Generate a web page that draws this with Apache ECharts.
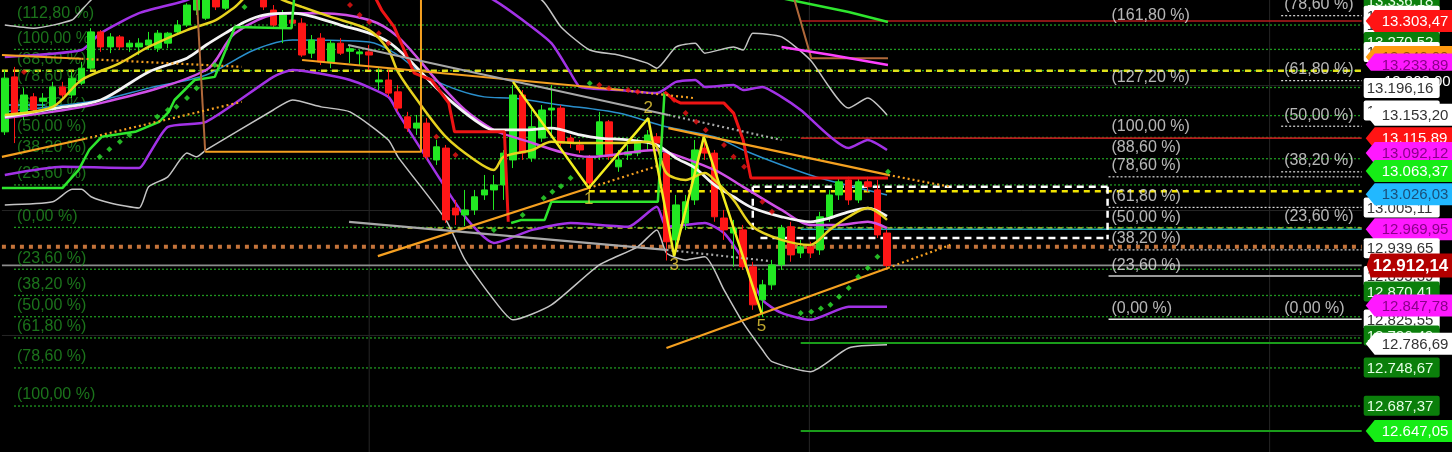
<!DOCTYPE html>
<html><head><meta charset="utf-8">
<script src="https://cdn.jsdelivr.net/npm/echarts@6/dist/echarts.min.js"></script>
<style>html,body{margin:0;padding:0;background:#000;}#c{width:1452px;height:452px;}</style>
</head><body><div id="c"></div>
<script>
// ---------- DATA ----------
const slots = Array.from({length: 151}, (_, i) => 'b' + i);
// [open, close, low, high]
const candles = [
[13126,13212,13121,13225],[13214,13153,13108,13230],[13153,13185,13145,13196],[13182,13161,13153,13188],
[13175,13180,13164,13188],[13161,13198,13156,13206],[13198,13185,13177,13206],[13185,13212,13180,13222],
[13204,13228,13201,13238],[13228,13286,13225,13292],[13286,13262,13254,13289],[13262,13278,13252,13284],
[13278,13262,13257,13281],[13262,13268,13254,13273],[13262,13268,13249,13276],[13265,13273,13257,13286],
[13260,13284,13254,13289],[13268,13284,13260,13286],[13286,13297,13284,13305],[13297,13329,13294,13332],
[13321,13345,13313,13353],[13308,13340,13305,13345],[13342,13326,13321,13347],[13324,13345,13321,13350],
[13385,13361,13355,13390],[13369,13393,13365,13398],[13377,13345,13340,13380],[13342,13326,13321,13347],
[13321,13297,13292,13329],[13294,13313,13268,13321],[13305,13300,13292,13313],[13300,13249,13246,13308],
[13252,13273,13244,13281],[13276,13238,13233,13284],[13238,13268,13228,13273],[13268,13252,13249,13276],
[13255,13259,13236,13265],[13251,13254,13233,13257],[13254,13249,13225,13265],[13206,13209,13193,13228],
[13209,13188,13182,13225],[13190,13164,13158,13201],[13150,13132,13126,13158],[13132,13140,13121,13153],
[13140,13086,13081,13148],[13081,13102,13073,13113],[13100,12985,12980,13105],[13004,12993,12977,13017],
[12993,13001,12975,13033],[13001,13022,12993,13033],[13025,13033,13017,13057],[13033,13041,13001,13057],
[13041,13092,13017,13097],[13081,13185,13068,13201],[13185,13092,13081,13193],[13084,13134,13078,13161],
[13116,13161,13110,13169],[13161,13164,13116,13201],[13164,13108,13103,13169],[13116,13108,13100,13121],
[13105,13097,13092,13113],[13084,13044,13033,13089],[13089,13142,13081,13158],[13142,13086,13081,13145],
[13070,13081,13062,13097],[13089,13094,13081,13105],[13092,13110,13087,13116],[13110,13121,13097,13129],
[13118,13108,13097,13124],[13092,12950,12920,13097],[12953,13009,12937,13025],[12980,13014,12969,13025],
[13017,13097,13009,13113],[13100,13092,13081,13113],[13092,12990,12982,13097],[12988,12969,12953,13001],
[12964,12972,12910,12985],[12969,12910,12905,12977],[12910,12849,12841,12918],[12857,12881,12830,12889],
[12881,12913,12873,12921],[12913,12972,12905,12977],[12974,12929,12918,12982],[12932,12942,12924,12953],
[12942,12932,12924,12950],[12937,12990,12929,12998],[12990,13025,12982,13033],[13025,13046,13017,13052],
[13049,13017,13009,13054],[13017,13046,13012,13052],[13046,13038,13030,13054],[13033,12961,12956,13049],
[12964,12912.14,12905,12969]
];
const whiteMA = [[0,13150],[5,13163],[10,13177],[15,13222],[19,13244],[21,13265],[23,13284],[25,13302],[27,13313],[30,13316],[32,13311],[35,13297],[38,13284],[40,13270],[42,13244],[44,13212],[46,13182],[49,13145],[51,13129],[54,13129],[57,13132],[60,13121],[62,13116],[65,13113],[68,13105],[70,13084],[72,13068],[74,13041],[76,13022],[78,13004],[81,12990],[84,12982],[86,12988],[88,12998],[90,13004],[92,12991]];
const yellowMA = [[0,13153],[5,13166],[8,13209],[12,13236],[15,13262],[19,13289],[22,13305],[24,13326],[26,13350],[28,13345],[29,13337],[31,13326],[34,13310],[38,13289],[40,13257],[41,13222],[43,13177],[46,13118],[49,13081],[51,13065],[52,13086],[55,13097],[57,13110],[60,13108],[64,13108],[67,13110],[68,13102],[69,13060],[71,13049],[73,13060],[74,13049],[76,13017],[78,12974],[81,12953],[84,12945],[86,12969],[88,12990],[90,13004],[92,12985]];
const purpleUpper = [[0,13246],[8,13257],[10,13284],[14,13316],[19,13337],[22,13361],[30,13401],[45,13380],[51,13337],[54,13305],[57,13268],[59,13220],[60,13198],[64,13193],[68,13188],[69,13196],[70,13206],[72,13209],[73,13198],[76,13201],[77,13193],[79,13198],[81,13182],[83,13161],[88,13100],[90,13113],[92,13097]];
const magentaMid = [[0,13148],[10,13172],[21,13225],[24,13284],[29,13316],[33,13316],[38,13305],[41,13278],[45,13209],[48,13161],[51,13129],[53,13118],[61,13086],[68,13097],[69,13094],[74,13065],[77,13038],[81,13001],[84,12977],[87,12977],[90,12982],[92,12972]];
const purpleLower = [[0,13057],[6,13070],[14,13068],[15,13089],[17,13134],[21,13142],[28,13214],[30,13225],[36,13209],[40,13182],[41,13156],[43,13108],[48,12990],[51,12948],[55,12969],[59,12980],[65,12974],[68,13006],[69,12974],[73,12980],[75,12964],[77,12921],[79,12857],[81,12836],[84,12825],[88,12846],[92,12846]];
const grayUpper = [[0,13297],[3,13292],[7,13305],[8,13321],[9,13337],[12,13377],[30,13420],[50,13380],[56,13337],[58,13294],[61,13257],[64,13249],[67,13236],[68,13228],[70,13262],[72,13268],[73,13252],[76,13262],[77,13257],[78,13284],[81,13278],[84,13241],[88,13164],[90,13180],[92,13153]];
const grayLower = [[0,13009],[5,13014],[7,13034],[8,13034],[9,13022],[11,13012],[14,13004],[15,13038],[17,13054],[19,13092],[20,13086],[21,13097],[28,13161],[30,13177],[33,13166],[36,13158],[40,13113],[41,13086],[46,12985],[48,12921],[51,12857],[53,12825],[57,12849],[62,12913],[66,12942],[68,12969],[69,12932],[71,12921],[73,12926],[75,12873],[77,12820],[79,12777],[80,12758],[84,12742],[88,12780],[92,12785]];
const blueMA = [[0,13158],[10,13177],[15,13196],[21,13217],[26,13257],[30,13273],[38,13270],[41,13249],[44,13214],[50,13182],[53,13180],[58,13169],[64,13156],[69,13134],[74,13118],[77,13097],[81,13073],[85,13052],[92,13025]];
const cyanShort = [[-0.3,13169],[4.2,13169]];
const greenStop1 = [[-0.3,13036],[6,13036],[7.7,13065],[8.8,13097],[10.1,13118],[13.6,13126],[16.1,13142],[17.1,13158],[17.7,13177],[19.8,13209],[21.9,13214],[24,13294],[29.9,13292],[30.2,13345]];
const greenStop2 = [[52.8,12980],[53.9,12985],[56.3,12985],[57,13014],[68.1,13014],[68.8,13190]];
const redStop1 = [[38.5,13345],[39.3,13321],[40.6,13294],[42.7,13220],[44.5,13209],[46.3,13172],[46.9,13126],[52.1,13126],[52.5,12982]];
const redStop2 = [[68.8,13190],[69.8,13177],[70.5,13172],[75,13172],[76,13156],[77,13113],[77.8,13052],[92.1,13052]];
const greenDots = [[9.9,13086],[10.9,13098],[12,13110],[13,13121],[15.9,13150],[17,13161],[17.9,13166],[19,13180],[20,13196],[21.9,13233],[25,13326],[51,12969],[54,12993],[56.2,13020],[57.1,13030],[58,13039],[59,13052],[61,13204],[83,12836],[84.1,12838],[85.1,12843],[86.1,12849],[87,12862],[88,12876],[89,12894],[90,12908],[91,12926],[92.1,13062]];
const redDots = [[2,13222],[36,13329],[37,13313],[38,13302],[39,13284],[40,13268],[45,13118],[47,13089],[62,13201],[63,13196],[65,13193],[66,13190],[69.8,13177],[71,13156],[72.1,13142],[73.1,13129],[75,13105],[76,13086],[77.1,13070],[79,13014],[80,12998]];
const zigzag = [[53,13206],[60.9,13036],[67.1,13148],[69.8,12927],[72.9,13118],[78.9,12836]];
const waveNames = ['', '1', '2', '3', '', '5'];
// trend lines: [start, end of solid part, end of dotted part]
const orangeTrends = [
  [[-0.3,13249],[8,13243],[24.7,13230]],
  [[31,13241],[64.3,13193],[71.9,13180]],
  [[69.2,13132],[92.1,13057],[98.6,13038]],
  [[38.9,12927],[60.9,13036],[68.4,13073]],
  [[69,12780],[92.1,12908],[98.6,12945]],
  [[-0.3,13086],[8.4,13115],[24.7,13174]]
];
const grayTrends = [
  [[35.8,13265],[69.2,13153],[81,13113]],
  [[35.9,12982],[69,12937],[79.9,12919]]
];
const brownStep = [[20,13345],[20.9,13094]];
const orangeStep = [[20.9,13094],[43.4,13094],[43.4,13345]];
const greenTop = [[81,13340],[88,13318],[92.1,13302]];
const brownTop = [[82.2,13345],[84.1,13244],[92.1,13244]];
const magentaTop = [[81,13262],[86.2,13249],[92.1,13233]];

const leftFibPrices = [13297,13258,13224,13197,13152,13117,13083,13041,12973,12906,12864,12830,12796,12748,12687];
const leftFibLabels = ['(112,80 %)','(100,00 %)','(88,60 %)','(78,60 %)','(61,80 %)','(50,00 %)','(38,20 %)','(23,60 %)','(0,00 %)','(23,60 %)','(38,20 %)','(50,00 %)','(61,80 %)','(78,60 %)','(100,00 %)'];
const fibAPrices = [13295,13195,13116,13083,13054,13005,12971,12937,12895,12826];
const fibALabels = ['(161,80 %)','(127,20 %)','(100,00 %)','(88,60 %)','(78,60 %)','(61,80 %)','(50,00 %)','(38,20 %)','(23,60 %)','(0,00 %)'];
const fibBPrices = [13312,13208,13135,13062,12972,12826];
const fibBLabels = ['(78,60 %)','(61,80 %)','(50,00 %)','(38,20 %)','(23,60 %)','(0,00 %)'];
const levelYellowTop = 13224, levelYellowMid = 13031, levelOlive = 12972, levelBrown = 12942, levelLast = 12912.14;
const levelTeal = 12969.95, levelRed1 = 13303.47, levelRed2 = 13115.89, levelGreen1 = 12788, levelGreen2 = 12647.05;
const boxTop = 13038, boxBottom = 12956;
const gridPrices = [13200, 13000, 12800];

const tagPrices = [13336.18,13312.00,13296.50,13303.47,13270.00,13254.00,13246.00,13233.89,13208.00,13196.16,13160.00,13153.20,13115.89,13092.12,13063.37,13005.00,13026.03,12969.95,12939.65,12895.39,12870.41,12825.55,12847.78,12800.00,12786.69,12748.67,12687.37,12647.05,12912.14];
const tagTexts = ['13.336,18','13.311,70','13.295,45','13.303,47','13.270,52','13.256,20','13.246,00','13.233,89','13.208,00','13.196,16','13.160,05','13.153,20','13.115,89','13.092,12','13.063,37','13.005,11','13.026,03','12.969,95','12.939,65','12.895,39','12.870,41','12.825,55','12.847,78','12.796,49','12.786,69','12.748,67','12.687,37','12.647,05','12.912,14'];

// ---------- STYLES ----------
const ST = {
  gbox: {kind:'box', bg:'#0b7f0b', fg:'#e6ffe6'},
  wbox: {kind:'box', bg:'#ffffff', fg:'#333333'},
  kbox: {kind:'wide', bg:'#000000', fg:'#ffffff'},
  red: {kind:'arrow', bg:'#ff1414', fg:'#ffffff'},
  mag: {kind:'arrow', bg:'#ff19ff', fg:'#8a008a'},
  org: {kind:'arrow', bg:'#ff9a10', fg:'#8a4a00'},
  warr: {kind:'arrow', bg:'#ffffff', fg:'#333333'},
  garr: {kind:'arrow', bg:'#16ec16', fg:'#ffffff'},
  cyan: {kind:'arrow', bg:'#22b8ff', fg:'#1a4f7a'},
  last: {kind:'last', bg:'#b30000', fg:'#ffffff'}
};
const tagStyleKeys = ['gbox','wbox','wbox','red','gbox','wbox','org','mag','kbox','wbox','wbox','warr','red','mag','garr','wbox','cyan','mag','wbox','wbox','gbox','wbox','mag','gbox','warr','gbox','gbox','garr','last'];

const S = [];
function seg(points, color, width, type, z, smooth) {
  S.push({type:'line', xAxisIndex:1, yAxisIndex:0, data:points, symbol:'none', silent:true,
    z: z || 3, smooth: smooth || false, clip: true,
    lineStyle:{color:color, width:width, type: type || 'solid'}});
}
const R = 141.5, L0 = -0.3;
// grid
gridPrices.forEach(p => seg([[L0,p],[R,p]], '#262626', 1, 'solid', 1));
[38, 83.9, 131.9].forEach(x => seg([[x,12613],[x,13337.1]], '#262626', 1, 'solid', 1));
// left fib (green dotted)
leftFibPrices.forEach(p => seg([[0.96,p],[R,p]], '#1f961f', 1.3, [2,2], 1));
// special levels
seg([[L0,levelYellowTop],[R,levelYellowTop]], '#e2e21a', 2.5, [6,5], 2);
seg([[60.9,levelYellowMid],[R,levelYellowMid]], '#f2e400', 2.5, [6,5], 2);
seg([[42,levelOlive],[R,levelOlive]], '#bcbf2a', 1.6, [5,5], 2);
seg([[L0,levelBrown],[R,levelBrown]], '#c4733a', 4, [4,5], 2);
seg([[L0,levelLast],[R,levelLast]], '#8c8c8c', 1.6, 'solid', 2);
seg([[83,levelTeal],[R,levelTeal]], '#1fa5ad', 1.6, 'solid', 2);
seg([[83,levelRed1],[R,levelRed1]], '#b51c1c', 1.6, 'solid', 2);
seg([[83,levelRed2],[R,levelRed2]], '#b51c1c', 1.6, 'solid', 2);
seg([[83,levelGreen1],[R,levelGreen1]], '#1a9c1a', 2, 'solid', 2);
seg([[83,levelGreen2],[R,levelGreen2]], '#1a9c1a', 2, 'solid', 2);
// white dashed box
seg([[78,boxTop],[115,boxTop]], '#ffffff', 2.5, [7,5], 2);
seg([[78.8,boxBottom],[115,boxBottom]], '#ffffff', 2.5, [7,5], 2);
seg([[78,boxTop],[78,12966]], '#ffffff', 2.5, [7,5], 2);
seg([[115,boxTop],[115,12954]], '#ffffff', 2.5, [7,5], 2);
// fib set A lines
const fibAStyle = [null,null,null,null,'dot','dot',null,'dot','gray','white'];
fibAPrices.forEach((p,k) => {
  const s = fibAStyle[k];
  if (s === 'dot') seg([[115.1,p],[R,p]], '#dddddd', 1.2, [2,2], 2);
  if (s === 'gray') seg([[115.1,p],[R,p]], '#9a9a9a', 2, 'solid', 2);
  if (s === 'white') seg([[115.1,p],[R,p]], '#e8e8e8', 1.5, 'solid', 2);
});
fibBPrices.forEach((p,k) => { if (k < 4) seg([[133.1,p],[R,p]], '#dddddd', 1.2, [2,2], 2); });

// bands and averages
seg(grayUpper, '#c4c4c4', 1.5, 'solid', 3, 0.2);
seg(grayLower, '#c4c4c4', 1.5, 'solid', 3, 0.2);
seg(purpleUpper, '#a232e6', 2.5, 'solid', 3, 0.2);
seg(purpleLower, '#a232e6', 2.5, 'solid', 3, 0.2);
seg(blueMA, '#2a8fcc', 1.5, 'solid', 3, 0.3);
seg(cyanShort, '#2fb8d8', 1.5, 'solid', 3);

S.push({type:'candlestick', xAxisIndex:0, yAxisIndex:0, data:candles, barWidth:7, z:4, silent:true, clip:true,
  itemStyle:{color:'#22e822', color0:'#ff1616', borderColor:'#22e822', borderColor0:'#ff1616', borderWidth:1}});

seg(magentaMid, '#cf4fe6', 2.5, 'solid', 5, 0.3);
seg(whiteMA, '#f4f4f4', 2.8, 'solid', 5, 0.3);
seg(yellowMA, '#e6d21e', 2.5, 'solid', 5, 0.3);
seg(greenStop1, '#2ee62e', 2.5, 'solid', 5);
seg(greenStop2, '#2ee62e', 2.5, 'solid', 5);
seg(redStop1, '#ee1414', 3, 'solid', 5);
seg(redStop2, '#ee1414', 3, 'solid', 5);
seg(brownStep, '#b0683a', 2, 'solid', 5);
seg(orangeStep, '#f5a020', 2, 'solid', 5);
seg(greenTop, '#2ee62e', 2.5, 'solid', 5);
seg(brownTop, '#b0683a', 2, 'solid', 5);
seg(magentaTop, '#ff40ff', 2.5, 'solid', 5);
orangeTrends.forEach(t => { seg([t[0],t[1]], '#f5a020', 2.2, 'solid', 5); seg([t[1],t[2]], '#f5a020', 2.2, [2,3], 5); });
grayTrends.forEach(t => { seg([t[0],t[1]], '#a8a8a8', 2.2, 'solid', 5); seg([t[1],t[2]], '#a8a8a8', 2.2, [2,3], 5); });
seg(zigzag, '#f2ee1e', 2.5, 'solid', 6);

S.push({type:'scatter', xAxisIndex:1, yAxisIndex:0, data:greenDots, symbol:'diamond', symbolSize:6, z:6, silent:true,
  itemStyle:{color:'#2ee62e'}});
S.push({type:'scatter', xAxisIndex:1, yAxisIndex:0, data:redDots, symbol:'diamond', symbolSize:6, z:6, silent:true,
  itemStyle:{color:'#ee1414'}});

// wave labels
const waveLabelPos = {'1':['bottom',2], '2':['top',1], '3':['bottom',0], '5':['bottom',4]};
S.push({type:'scatter', xAxisIndex:1, yAxisIndex:0, symbol:'circle', symbolSize:1, z:7, silent:true,
  itemStyle:{color:'rgba(0,0,0,0)'},
  data: zigzag.map((p,k) => ({name:waveNames[k], value:p})).filter(d => d.name).map(d => Object.assign(d, {
    label:{show:true, position: waveLabelPos[d.name][0], distance: waveLabelPos[d.name][1],
      color:'#f0d23a', fontSize:17, fontFamily:'Liberation Sans, Arial', formatter:'{b}'}})),
  label:{show:true, formatter:'{b}', color:'#f0d23a', fontSize:17, fontFamily:'Liberation Sans, Arial'}
});

function labelSeries(x, prices, labels, color) {
  S.push({type:'scatter', xAxisIndex:1, yAxisIndex:0, symbolSize:0, z:2, silent:true,
    data: prices.map((p,k) => ({name:labels[k], value:[x,p]})),
    label:{show:true, position:'right', distance:3, offset:[0,-11], formatter:'{b}', color:color,
      fontSize:16, fontFamily:'Liberation Sans, Arial'}});
}
labelSeries(0.96, leftFibPrices, leftFibLabels, '#229022');
labelSeries(115.1, fibAPrices, fibALabels, '#e4e4e4');
labelSeries(133.1, fibBPrices, fibBLabels, '#e4e4e4');

// price tags
S.push({type:'custom', xAxisIndex:1, yAxisIndex:0, z:20, clip:false, silent:true,
  data: tagPrices.map((p,k) => [R, p, k]),
  renderItem: function(params, api) {
    const k = api.value(2);
    const pt = api.coord([api.value(0), api.value(1)]);
    const x0 = pt[0], y = pt[1];
    const st = ST[tagStyleKeys[k]];
    const h = 10;
    let shape, tx, font = '15px "Liberation Sans", Arial', align = 'left';
    if (st.kind === 'arrow') {
      shape = {type:'polygon', shape:{points:[[x0+4,y],[x0+13,y-h-1],[x0+92,y-h-1],[x0+92,y+h+1],[x0+13,y+h+1]]}, style:{fill:st.bg}};
      tx = x0 + 20;
    } else if (st.kind === 'last') {
      shape = {type:'polygon', shape:{points:[[x0+5,y],[x0+9,y-h-2],[x0+92,y-h-2],[x0+92,y+h+2],[x0+9,y+h+2]]}, style:{fill:st.bg}};
      tx = x0 + 11; font = 'bold 17px "Liberation Sans", Arial';
    } else if (st.kind === 'wide') {
      shape = {type:'rect', shape:{x:x0+2, y:y-h, width:90, height:2*h}, style:{fill:st.bg}};
      tx = x0 + 89; align = 'right';
    } else {
      shape = {type:'rect', shape:{x:x0+2, y:y-h, width:76, height:2*h, r:2}, style:{fill:st.bg}};
      tx = x0 + 5;
    }
    return {type:'group', children:[shape,
      {type:'text', style:{text:tagTexts[k], x:tx, y:y+1, align:align, verticalAlign:'middle', fill:st.fg, font:font}}]};
  }
});

const chart = echarts.init(document.getElementById('c'));
chart.setOption({
  backgroundColor:'#000',
  animation:false,
  grid:{left:-2, right:4, top:0, bottom:0},
  xAxis:[
    {type:'category', data:slots, boundaryGap:true, show:false},
    {type:'value', min:-0.5, max:150.5, show:false}
  ],
  yAxis:{type:'value', min:12613.4, max:13337.1, show:false},
  series:S
});
</script>
</body></html>
